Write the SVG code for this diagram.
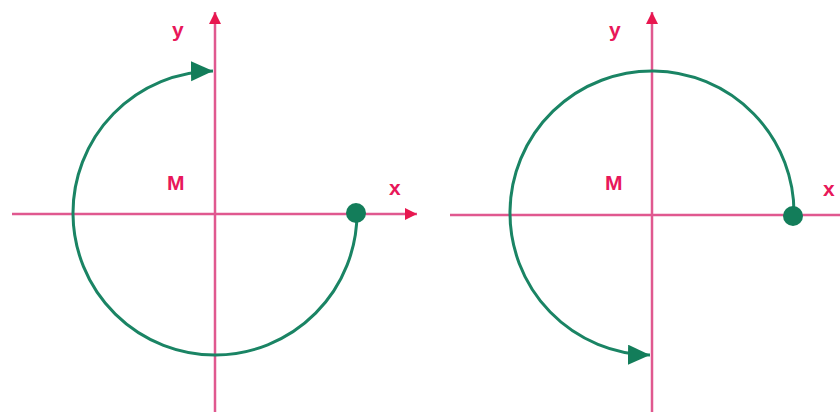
<svg xmlns="http://www.w3.org/2000/svg" width="840" height="412" viewBox="0 0 840 412">
  <style>
    .axis { stroke: #e0588f; stroke-width: 2.5; fill: none; }
    .arc { stroke: #1a8464; stroke-width: 3; fill: none; }
    .lbl { font-family: "Liberation Sans", Arial, sans-serif; font-weight: bold; font-size: 21px; fill: #e8175a; }
    .dot { fill: #137d5a; }
  </style>
  <defs>
    <marker id="axArrow" markerUnits="userSpaceOnUse" markerWidth="14" markerHeight="14" refX="12" refY="6" orient="auto">
      <path d="M0,0 L12,6 L0,12 Z" fill="#e8174f"/>
    </marker>
    <marker id="arcArrow" markerUnits="userSpaceOnUse" markerWidth="24" markerHeight="24" refX="22" refY="10" orient="auto">
      <path d="M0,0 L22,10 L0,20 Z" fill="#137d5a"/>
    </marker>
  </defs>

  <g id="left-axes">
    <line class="axis" x1="12" y1="214" x2="417" y2="214" marker-end="url(#axArrow)"/>
    <line class="axis" x1="215" y1="412" x2="215" y2="12" marker-end="url(#axArrow)"/>
  </g>
  <g id="right-axes">
    <line class="axis" x1="450" y1="215" x2="840" y2="215"/>
    <line class="axis" x1="652" y1="412" x2="652" y2="12" marker-end="url(#axArrow)"/>
  </g>

  <g id="connectors">
    <path class="arc" d="M357,213 A142,142 0 1 1 213,71" marker-end="url(#arcArrow)"/>
    <path class="arc" d="M794,215 A142,142 0 1 0 650,355" marker-end="url(#arcArrow)"/>
  </g>

  <g id="left-point">
    <circle class="dot" cx="356" cy="213" r="10"/>
  </g>
  <g id="right-point">
    <circle class="dot" cx="793" cy="216" r="10"/>
  </g>

  <g id="left-labels">
    <text class="lbl" x="172" y="37">y</text>
    <text class="lbl" x="167" y="190">M</text>
    <text class="lbl" x="389" y="195">x</text>
  </g>
  <g id="right-labels">
    <text class="lbl" x="609" y="37">y</text>
    <text class="lbl" x="605" y="190">M</text>
    <text class="lbl" x="823" y="196">x</text>
  </g>
</svg>
